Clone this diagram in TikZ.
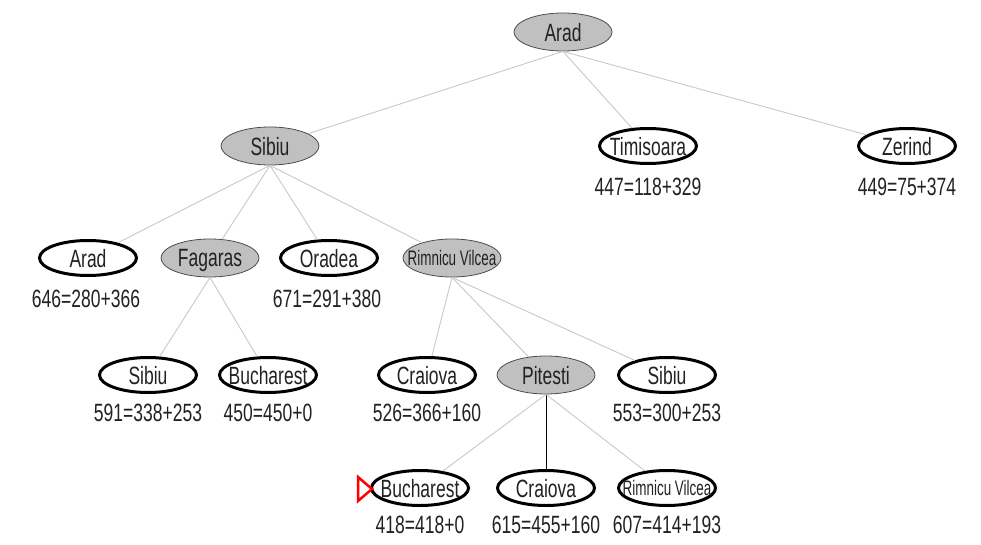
\documentclass[tikz,border=0pt]{standalone}
\usepackage{fontspec}
\setmainfont[FakeStretch=0.7]{Liberation Sans}
\newfontfamily\smallcity[FakeStretch=0.64]{Liberation Sans}
\usetikzlibrary{shapes.geometric}
\definecolor{nodegray}{RGB}{192,192,192}
\definecolor{edgegray}{RGB}{200,200,200}
\definecolor{textgray}{RGB}{34,34,34}
\tikzstyle{expanded} = [ellipse, minimum width=98pt, minimum height=38pt, inner xsep=-15pt, inner ysep=0pt, text depth=0pt, draw=black!70, line width=0.8pt, fill=nodegray, text=textgray, font=\fontsize{25}{27}\selectfont]
\tikzstyle{frontier} = [ellipse, minimum width=97pt, minimum height=35pt, inner xsep=-15pt, inner ysep=0pt, text depth=0pt, draw=black, line width=3pt, fill=white, text=textgray, font=\fontsize{25}{27}\selectfont]
\tikzstyle{small} = [font=\fontsize{21}{23}\smallcity]
\tikzstyle{cost} = [text=textgray, inner sep=0pt, font=\fontsize{25}{27}\selectfont]
\tikzstyle{edge} = [draw=edgegray, line width=0.9pt]
\tikzstyle{chosen} = [draw=black, line width=1pt]

\begin{document}
\begin{tikzpicture}[x=1pt, y=-1pt]
    \useasboundingbox (0,0) rectangle (981,545);

    \node (arad) [expanded] at (563,32) {Arad};
    \node (sibiu) [expanded] at (270,146) {Sibiu};
    \node (timisoara) [frontier] at (648,146) {Timisoara};
    \node (zerind) [frontier] at (907,146) {Zerind};
    \node (timisoara_f) [cost] at (648,187) {447=118+329};
    \node (zerind_f) [cost] at (907,187) {449=75+374};

    \node (arad2) [frontier] at (88,258) {Arad};
    \node (fagaras) [expanded] at (210,258) {Fagaras};
    \node (oradea) [frontier] at (329,258) {Oradea};
    \node (rimnicu) [expanded, small] at (452,258) {Rimnicu Vilcea};
    \node (arad2_f) [cost] at (86,299) {646=280+366};
    \node (oradea_f) [cost] at (327,299) {671=291+380};

    \node (sibiu2) [frontier] at (148,375) {Sibiu};
    \node (bucharest) [frontier] at (268,375) {Bucharest};
    \node (craiova) [frontier] at (427,375) {Craiova};
    \node (pitesti) [expanded] at (546,375) {Pitesti};
    \node (sibiu3) [frontier] at (667,375) {Sibiu};
    \node (sibiu2_f) [cost] at (148,413) {591=338+253};
    \node (bucharest_f) [cost] at (268,413) {450=450+0};
    \node (craiova_f) [cost] at (427,413) {526=366+160};
    \node (sibiu3_f) [cost] at (667,413) {553=300+253};

    \node (bucharest2) [frontier] at (420,488) {Bucharest};
    \node (craiova2) [frontier] at (546,488) {Craiova};
    \node (rimnicu2) [frontier, small] at (667,488) {Rimnicu Vilcea};
    \node (bucharest2_f) [cost] at (420,525) {418=418+0};
    \node (craiova2_f) [cost] at (546,525) {615=455+160};
    \node (rimnicu2_f) [cost] at (667,525) {607=414+193};

    % goal marker
    \draw [red, line width=2.5pt, line join=miter] (358,477) -- (372,489) -- (358,501) -- cycle;

    \draw [edge] (arad.south) -- (sibiu);
    \draw [edge] (arad.south) -- (timisoara);
    \draw [edge] (arad.south) -- (zerind);
    \draw [edge] (sibiu.south) -- (arad2);
    \draw [edge] (sibiu.south) -- (fagaras);
    \draw [edge] (sibiu.south) -- (oradea);
    \draw [edge] (sibiu.south) -- (rimnicu);
    \draw [edge] (fagaras.south) -- (sibiu2);
    \draw [edge] (fagaras.south) -- (bucharest);
    \draw [edge] (rimnicu.south) -- (craiova);
    \draw [edge] (rimnicu.south) -- (pitesti);
    \draw [edge] (rimnicu.south) -- (sibiu3);
    \draw [edge] (pitesti.south) -- (bucharest2);
    \draw [chosen] (pitesti.south) -- (craiova2);
    \draw [edge] (pitesti.south) -- (rimnicu2);
\end{tikzpicture}
\end{document}
